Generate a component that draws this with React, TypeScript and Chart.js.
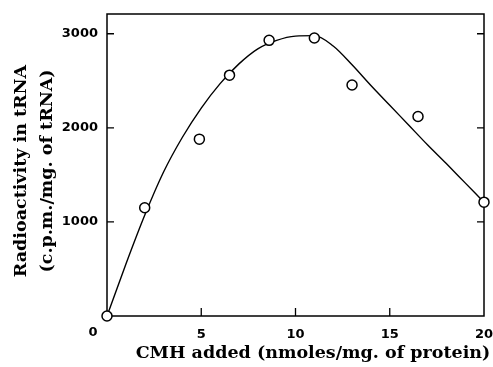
import React, { useEffect, useRef } from "react";
import { Chart, registerables } from "chart.js";

Chart.register(...registerables);

// Measured data points (CMH added, radioactivity)
const pointX = [0, 2, 4.9, 6.5, 8.6, 11, 13, 16.5, 20];
const pointY = [0, 1150, 1880, 2560, 2930, 2955, 2455, 2120, 1210];

// Fitted smooth curve
const curveX = [0, 1, 2, 3, 4, 5, 6, 7, 8, 9, 10, 11, 12, 13, 14, 15, 16, 17, 18, 19, 20];
const curveY = [0, 550, 1070, 1530, 1900, 2210, 2470, 2680, 2840, 2930, 2975, 2980, 2870, 2670, 2450, 2240, 2030, 1820, 1620, 1415, 1210];

const xTicks = [0, 5, 10, 15, 20];
const yTicks = [0, 1000, 2000, 3000];

const xTitle = "CMH added (nmoles/mg. of protein)";
const yTitle = ["Radioactivity in tRNA", "(c.p.m./mg. of tRNA)"];

const framePlugin = {
  id: "frameAndTicks",
  beforeDatasetsDraw(chart: any) {
    const { ctx, chartArea, scales } = chart;
    const { left, right, top, bottom } = chartArea;
    ctx.save();
    ctx.strokeStyle = "#000";
    ctx.lineWidth = 1.5;
    ctx.strokeRect(left, top, right - left, bottom - top);
    ctx.lineWidth = 1.3;
    ctx.beginPath();
    yTicks.forEach((v) => {
      if (v === 0) return;
      const y = scales.y.getPixelForValue(v);
      ctx.moveTo(left, y);
      ctx.lineTo(left + 7, y);
      ctx.moveTo(right, y);
      ctx.lineTo(right - 7, y);
    });
    xTicks.forEach((v) => {
      if (v === 0 || v === 20) return;
      const x = scales.x.getPixelForValue(v);
      ctx.moveTo(x, bottom);
      ctx.lineTo(x, bottom - 8);
    });
    ctx.stroke();
    ctx.restore();
  },
  afterDraw(chart: any) {
    const { ctx, chartArea, scales } = chart;
    ctx.save();
    ctx.fillStyle = "#000";
    // shared origin label
    ctx.font = "bold 13px 'DejaVu Sans'";
    ctx.textAlign = "center";
    ctx.textBaseline = "middle";
    ctx.fillText("0", scales.x.getPixelForValue(0) - 14, chartArea.bottom + 17);
    // x-axis title
    ctx.font = "bold 17.5px 'DejaVu Serif'";
    ctx.fillText(xTitle, 313, 353);
    // y-axis title (two lines, rotated)
    ctx.translate(0, 171);
    ctx.rotate(-Math.PI / 2);
    ctx.fillText(yTitle[0], 0, 21);
    ctx.fillText(yTitle[1], 0, 47);
    ctx.restore();
  },
};

export default function App() {
  const ref = useRef<HTMLCanvasElement>(null);

  useEffect(() => {
    if (!ref.current) return;
    const chart = new Chart(ref.current, {
      type: "scatter",
      data: {
        datasets: [
          {
            label: "measured",
            data: pointX.map((x, i) => ({ x, y: pointY[i] })),
            showLine: false,
            pointRadius: 5,
            pointBorderWidth: 1.5,
            pointBorderColor: "#000",
            pointBackgroundColor: "#fff",
            clip: false as any,
          },
          {
            label: "curve",
            data: curveX.map((x, i) => ({ x, y: curveY[i] })),
            showLine: true,
            borderColor: "#000",
            borderWidth: 1.4,
            pointRadius: 0,
            cubicInterpolationMode: "monotone",
            fill: false,
          },
        ],
      },
      options: {
        responsive: false,
        animation: false,
        layout: { padding: { left: 0, right: 9, top: 14, bottom: 0 } },
        plugins: { legend: { display: false }, tooltip: { enabled: false } },
        scales: {
          x: {
            type: "linear",
            min: 0,
            max: 20,
            afterBuildTicks: (s: any) => {
              s.ticks = xTicks.map((v) => ({ value: v }));
            },
            afterFit: (s: any) => {
              s.height = 51;
              s.paddingLeft = 0;
              s.paddingRight = 0;
            },
            grid: { display: false, drawTicks: false },
            border: { display: false },
            ticks: {
              padding: 11,
              color: "#000",
              font: { family: "'DejaVu Sans'", size: 13, weight: "bold" },
              callback: (v: any) => (v === 0 ? "" : String(v)),
            },
          },
          y: {
            type: "linear",
            min: 0,
            max: 3210,
            afterBuildTicks: (s: any) => {
              s.ticks = yTicks.map((v) => ({ value: v }));
            },
            afterFit: (s: any) => {
              s.width = 107;
              s.paddingTop = 0;
              s.paddingBottom = 0;
            },
            grid: { display: false, drawTicks: false },
            border: { display: false },
            ticks: {
              padding: 9,
              color: "#000",
              font: { family: "'DejaVu Sans'", size: 13, weight: "bold" },
              callback: (v: any) => (v === 0 ? "" : String(v)),
            },
          },
        },
      },
      plugins: [framePlugin],
    });
    return () => chart.destroy();
  }, []);

  return (
    <div style={{ position: "absolute", left: 0, top: 0, width: 493, height: 367, background: "#fff" }}>
      <canvas ref={ref} width={493} height={367} style={{ display: "block" }} />
    </div>
  );
}
